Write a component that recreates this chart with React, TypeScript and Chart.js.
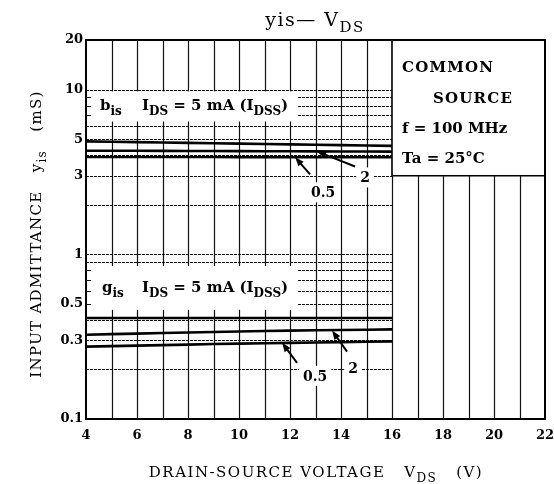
import React, { useEffect, useRef } from 'react';
import { Chart, registerables } from 'chart.js';

Chart.register(...registerables);

// ---------- data ----------
const vdsPoints = [4, 6, 8, 10, 12, 14, 16];
const bis5mA = [4.85, 4.8, 4.75, 4.7, 4.65, 4.6, 4.55];
const bis2mA = [4.25, 4.25, 4.24, 4.23, 4.22, 4.21, 4.2];
const bis05mA = [3.9, 3.9, 3.9, 3.89, 3.89, 3.88, 3.88];
const gis5mA = [0.41, 0.41, 0.41, 0.41, 0.41, 0.41, 0.41];
const gis2mA = [0.325, 0.33, 0.335, 0.34, 0.344, 0.347, 0.35];
const gis05mA = [0.275, 0.279, 0.283, 0.287, 0.29, 0.293, 0.296];

const xTickValues = [4, 6, 8, 10, 12, 14, 16, 18, 20, 22];
const yTickValues = [0.1, 0.3, 0.5, 1, 3, 5, 10, 20];
const xGridValues = [5, 6, 7, 8, 9, 10, 11, 12, 13, 14, 15, 16, 17, 18, 19, 20, 21];
const yGridValues = [0.2, 0.3, 0.4, 0.5, 0.6, 0.7, 0.8, 0.9, 1, 2, 3, 4, 5, 6, 7, 8, 9, 10];

const SERIF = '"DejaVu Serif", "Liberation Serif", serif';

type Part = { t: string; sub?: boolean };

function drawRich(
  ctx: CanvasRenderingContext2D,
  parts: Part[],
  x: number,
  y: number,
  align: 'left' | 'center' | 'right',
  size: number,
  bold: boolean,
  spacing = 0
) {
  const w = bold ? 'bold ' : '';
  const main = `${w}${size}px ${SERIF}`;
  const subSize = Math.round(size * 0.78);
  const subF = `${w}${subSize}px ${SERIF}`;
  (ctx as any).letterSpacing = `${spacing}px`;
  const widths = parts.map((p) => {
    ctx.font = p.sub ? subF : main;
    return ctx.measureText(p.t).width;
  });
  const total = widths.reduce((a, b) => a + b, 0);
  let cx = align === 'center' ? x - total / 2 : align === 'right' ? x - total : x;
  ctx.textAlign = 'left';
  ctx.textBaseline = 'alphabetic';
  parts.forEach((p, i) => {
    ctx.font = p.sub ? subF : main;
    ctx.fillText(p.t, cx, y + (p.sub ? size * 0.32 : 0));
    cx += widths[i];
  });
  (ctx as any).letterSpacing = '0px';
}

const decorPlugin = {
  id: 'decor',
  beforeDatasetsDraw(chart: any) {
    const { ctx, chartArea: ca } = chart;
    const xs = chart.scales.x;
    const ys = chart.scales.y;
    const px = (v: number) => xs.getPixelForValue(v);
    const py = (v: number) => ys.getPixelForValue(v);
    ctx.save();
    ctx.fillStyle = '#fff';
    ctx.fillRect(ca.left, ca.top, ca.right - ca.left, ca.bottom - ca.top);
    // vertical grid
    ctx.strokeStyle = '#111';
    ctx.lineWidth = 1.2;
    xGridValues.forEach((v) => {
      const top = v > 16 ? py(3) : ca.top;
      const X = Math.round(px(v)) + 0.5;
      ctx.beginPath();
      ctx.moveTo(X, top);
      ctx.lineTo(X, ca.bottom);
      ctx.stroke();
    });
    // horizontal grid (fine dashes)
    ctx.lineWidth = 1;
    ctx.strokeStyle = '#111';
    ctx.setLineDash([3, 1]);
    yGridValues.forEach((v) => {
      const Y = Math.round(py(v)) + 0.5;
      ctx.beginPath();
      ctx.moveTo(ca.left, Y);
      ctx.lineTo(px(16), Y);
      ctx.stroke();
    });
    ctx.setLineDash([]);
    // label boxes
    const boxes = [
      { x0: 4, x1: 12.3, y0: 9.75, y1: 6.4 },
      { x0: 4, x1: 12.3, y0: 0.85, y1: 0.46 },
    ];
    boxes.forEach((b) => {
      ctx.fillStyle = '#fff';
      ctx.fillRect(px(b.x0) + 1, py(b.y0), px(b.x1) - px(b.x0) - 1, py(b.y1) - py(b.y0));
      ctx.strokeStyle = '#111';
      ctx.lineWidth = 1;
      yGridValues
        .filter((v) => v < b.y0 && v > b.y1)
        .forEach((v) => {
          const Y = Math.round(py(v)) + 0.5;
          ctx.beginPath();
          ctx.moveTo(ca.left, Y);
          ctx.lineTo(ca.left + 5, Y);
          ctx.stroke();
        });
    });
    // right info box
    ctx.fillStyle = '#fff';
    ctx.fillRect(px(16), ca.top, ca.right - px(16), py(3) - ca.top);
    ctx.strokeStyle = '#000';
    ctx.lineWidth = 1.6;
    ctx.beginPath();
    ctx.moveTo(px(16), ca.top);
    ctx.lineTo(px(16), py(3));
    ctx.lineTo(ca.right, py(3));
    ctx.stroke();
    ctx.restore();
  },
  afterDatasetsDraw(chart: any) {
    const { ctx, chartArea: ca } = chart;
    const xs = chart.scales.x;
    const ys = chart.scales.y;
    const px = (v: number) => xs.getPixelForValue(v);
    const py = (v: number) => ys.getPixelForValue(v);
    ctx.save();
    ctx.fillStyle = '#000';
    ctx.strokeStyle = '#000';

    // arrows with labels
    const arrows = [
      { x: 12.2, y: 3.88, dx: 15, dy: 17, lx: 28, ly: 40, text: '0.5' },
      { x: 13.06, y: 4.21, dx: 38, dy: 15, lx: 48, ly: 31, text: '2' },
      { x: 11.69, y: 0.29, dx: 15, dy: 20, lx: 33, ly: 38, text: '0.5' },
      { x: 13.65, y: 0.344, dx: 15, dy: 21, lx: 21, ly: 42, text: '2' },
    ];
    arrows.forEach((a) => {
      const hx = px(a.x);
      const hy = py(a.y);
      const tx = hx + a.dx;
      const ty = hy + a.dy;
      // label bg
      ctx.font = `bold 14px ${SERIF}`;
      const tw = ctx.measureText(a.text).width;
      ctx.fillStyle = '#fff';
      ctx.fillRect(hx + a.lx - tw / 2 - 4, hy + a.ly - 15, tw + 8, 20);
      ctx.fillStyle = '#000';
      ctx.textAlign = 'center';
      ctx.textBaseline = 'alphabetic';
      ctx.fillText(a.text, hx + a.lx, hy + a.ly);
      // shaft
      const ang = Math.atan2(hy - ty, hx - tx);
      ctx.lineWidth = 2;
      ctx.beginPath();
      ctx.moveTo(tx, ty);
      ctx.lineTo(hx - Math.cos(ang) * 6, hy - Math.sin(ang) * 6);
      ctx.stroke();
      // head
      const L = 9;
      const W = 3.5;
      ctx.beginPath();
      ctx.moveTo(hx, hy);
      ctx.lineTo(hx - Math.cos(ang) * L - Math.sin(ang) * W, hy - Math.sin(ang) * L + Math.cos(ang) * W);
      ctx.lineTo(hx - Math.cos(ang) * L + Math.sin(ang) * W, hy - Math.sin(ang) * L - Math.cos(ang) * W);
      ctx.closePath();
      ctx.fill();
    });

    // series labels inside boxes
    const bMid = (py(9.75) + py(6.4)) / 2;
    drawRich(ctx, [{ t: 'b' }, { t: 'is', sub: true }], 100, bMid + 4, 'left', 15, true);
    drawRich(ctx, [{ t: 'I' }, { t: 'DS', sub: true }, { t: ' = 5 mA (I' }, { t: 'DSS', sub: true }, { t: ')' }], 142, bMid + 4, 'left', 15, true);
    const gMid = (py(0.85) + py(0.46)) / 2;
    drawRich(ctx, [{ t: 'g' }, { t: 'is', sub: true }], 102, gMid + 4, 'left', 15, true);
    drawRich(ctx, [{ t: 'I' }, { t: 'DS', sub: true }, { t: ' = 5 mA (I' }, { t: 'DSS', sub: true }, { t: ')' }], 142, gMid + 4, 'left', 15, true);

    // info box text
    const bx = px(16) + 10;
    drawRich(ctx, [{ t: 'COMMON' }], bx, 72, 'left', 15, true, 1.2);
    drawRich(ctx, [{ t: 'SOURCE' }], bx + 31, 103, 'left', 15, true, 1.2);
    drawRich(ctx, [{ t: 'f = 100 MHz' }], bx, 133, 'left', 15, true);
    drawRich(ctx, [{ t: 'Ta = 25°C' }], bx, 163, 'left', 15, true);

    // frame
    ctx.lineWidth = 2;
    ctx.strokeStyle = '#000';
    ctx.strokeRect(ca.left, ca.top, ca.right - ca.left, ca.bottom - ca.top);
    ctx.restore();
  },
  afterDraw(chart: any) {
    const { ctx } = chart;
    ctx.save();
    ctx.fillStyle = '#000';
    // title
    drawRich(ctx, [{ t: 'yis' }, { t: '\u2014 ' }, { t: 'V' }, { t: 'DS', sub: true }], 315, 26, 'center', 19, false, 1.5);
    // x title
    drawRich(ctx, [{ t: 'DRAIN-SOURCE VOLTAGE   V' }, { t: 'DS', sub: true }, { t: '   (V)' }], 316, 477, 'center', 15, false, 1.5);
    // y title
    ctx.translate(41, 234);
    ctx.rotate(-Math.PI / 2);
    drawRich(ctx, [{ t: 'INPUT ADMITTANCE   y' }, { t: 'is', sub: true }, { t: '   (mS)' }], 0, 0, 'center', 15, false, 1.3);
    ctx.restore();
  },
};

function makeSeries(vals: number[]) {
  return {
    data: vdsPoints.map((x, i) => ({ x, y: vals[i] })),
    borderColor: '#000',
    borderWidth: 2.6,
    pointRadius: 0,
    tension: 0.3,
    fill: false,
  };
}

export default function App() {
  const ref = useRef<HTMLCanvasElement>(null);
  useEffect(() => {
    const chart = new Chart(ref.current as HTMLCanvasElement, {
      type: 'line',
      data: {
        datasets: [
          { label: 'bis 5mA', ...makeSeries(bis5mA) },
          { label: 'bis 2mA', ...makeSeries(bis2mA) },
          { label: 'bis 0.5mA', ...makeSeries(bis05mA) },
          { label: 'gis 5mA', ...makeSeries(gis5mA) },
          { label: 'gis 2mA', ...makeSeries(gis2mA) },
          { label: 'gis 0.5mA', ...makeSeries(gis05mA) },
        ] as any,
      },
      options: {
        animation: false,
        responsive: false,
        devicePixelRatio: 1,
        layout: { padding: { top: 40, right: 9, left: 0, bottom: 0 } },
        plugins: { legend: { display: false }, tooltip: { enabled: false }, title: { display: false } },
        scales: {
          x: {
            type: 'linear',
            min: 4,
            max: 22,
            grid: { display: false, drawTicks: false },
            border: { display: false },
            afterBuildTicks: (s: any) => {
              s.ticks = xTickValues.map((v) => ({ value: v }));
            },
            afterFit: (s: any) => {
              s.height = 65;
              s.paddingLeft = 0;
              s.paddingRight = 0;
            },
            ticks: {
              autoSkip: false,
              maxRotation: 0,
              padding: 9,
              color: '#000',
              font: { family: SERIF, size: 13, weight: 'bold' },
              callback: (v: any) => String(v),
            },
          },
          y: {
            type: 'logarithmic',
            min: 0.1,
            max: 20,
            grid: { display: false, drawTicks: false },
            border: { display: false },
            afterBuildTicks: (s: any) => {
              s.ticks = yTickValues.map((v) => ({ value: v }));
            },
            afterFit: (s: any) => {
              s.width = 86;
              s.paddingTop = 0;
              s.paddingBottom = 0;
            },
            ticks: {
              autoSkip: false,
              padding: 3,
              color: '#000',
              font: { family: SERIF, size: 13, weight: 'bold' },
              callback: (v: any) => String(v),
            },
          },
        },
      } as any,
      plugins: [decorPlugin],
    });
    return () => chart.destroy();
  }, []);
  return (
    <div style={{ position: 'absolute', left: 0, top: 0, width: 554, height: 484, background: '#fff' }}>
      <canvas ref={ref} width={554} height={484} style={{ display: 'block', width: 554, height: 484 }} />
    </div>
  );
}
